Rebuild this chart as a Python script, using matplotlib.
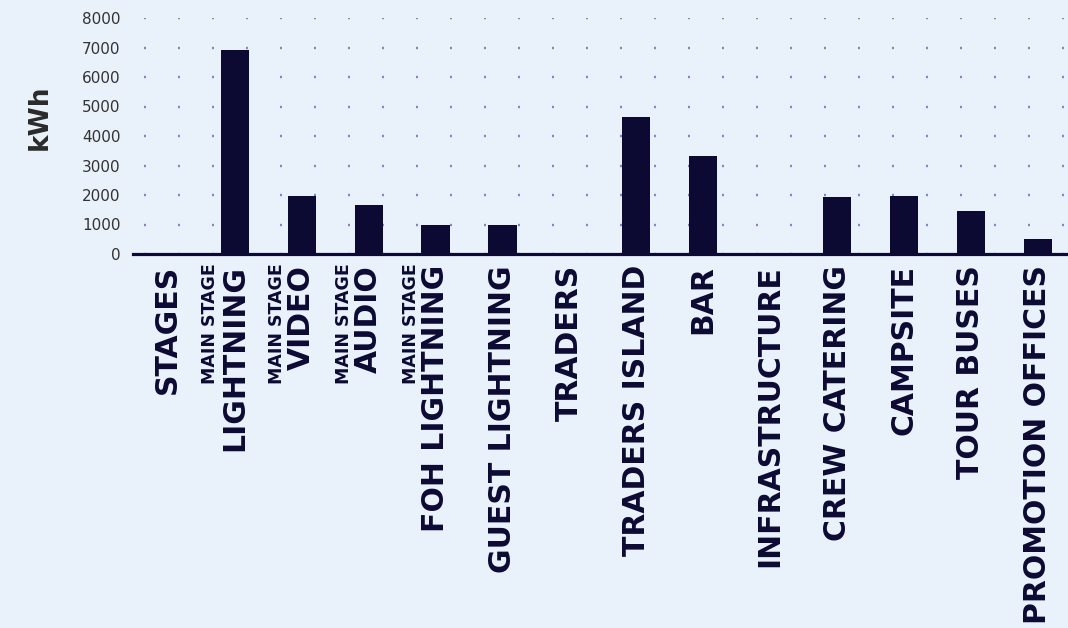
import matplotlib
matplotlib.use("Agg")
import matplotlib.pyplot as plt

categories = ["STAGES", "LIGHTNING", "VIDEO", "AUDIO", "FOH LIGHTNING",
              "GUEST LIGHTNING", "TRADERS", "TRADERS ISLAND", "BAR",
              "INFRASTRUCTURE", "CREW CATERING", "CAMPSITE", "TOUR BUSES",
              "PROMOTION OFFICES"]
prefix = ["", "MAIN STAGE", "MAIN STAGE", "MAIN STAGE", "MAIN STAGE",
          "", "", "", "", "", "", "", "", ""]
kwh = [0, 6900, 1950, 1660, 980, 980, 0, 4640, 3320, 0, 1930, 1970, 1460, 510]
yticks = [0, 1000, 2000, 3000, 4000, 5000, 6000, 7000, 8000]

bg = "#e9f1fa"
navy = "#0c0a33"
plt.rcParams["lines.scale_dashes"] = False

fig = plt.figure(figsize=(10.68, 6.28), dpi=100, facecolor=bg)
ax = fig.add_axes([133 / 1068, 1 - 254 / 628, 1 - 133 / 1068, (254 - 18) / 628])
ax.set_facecolor(bg)

x = list(range(len(categories)))
ax.bar(x, kwh, width=0.42, color=navy, zorder=3)

ax.set_xlim(-0.52, 13.45)
ax.set_ylim(0, 8000)
ax.set_yticks(yticks)
ax.set_yticklabels([str(v) for v in yticks], fontsize=11, color="#333333")
ax.set_xticks(x)
ax.set_xticklabels(categories, rotation=90, fontsize=21.5, fontweight="bold",
                   color=navy, va="top", ha="center")
ax.tick_params(axis="x", length=0, pad=8)
ax.tick_params(axis="y", length=0, pad=9)

# dotted horizontal grid
ax.yaxis.grid(True, color="#7d84c6", linewidth=1.7,
              linestyle=(16.56, (1.4, 23.08)), zorder=1)
ax.set_axisbelow(True)

for s in ["top", "right", "left"]:
    ax.spines[s].set_visible(False)
ax.spines["bottom"].set_color(navy)
ax.spines["bottom"].set_linewidth(2.3)
ax.spines["bottom"].set_zorder(4)

for i, p in enumerate(prefix):
    if p:
        ax.annotate(p, xy=(i, 0), xycoords=("data", "axes fraction"),
                    xytext=(-18, -7), textcoords="offset points",
                    rotation=90, ha="center", va="top", fontsize=12.5,
                    fontweight="bold", color=navy)

fig.text(40 / 1068, 1 - 117 / 628, "kWh", rotation=90, ha="center",
         va="center", fontsize=19, fontweight="bold", color="#2a2a2a")

fig.savefig("out.png", dpi=100, facecolor=bg)
